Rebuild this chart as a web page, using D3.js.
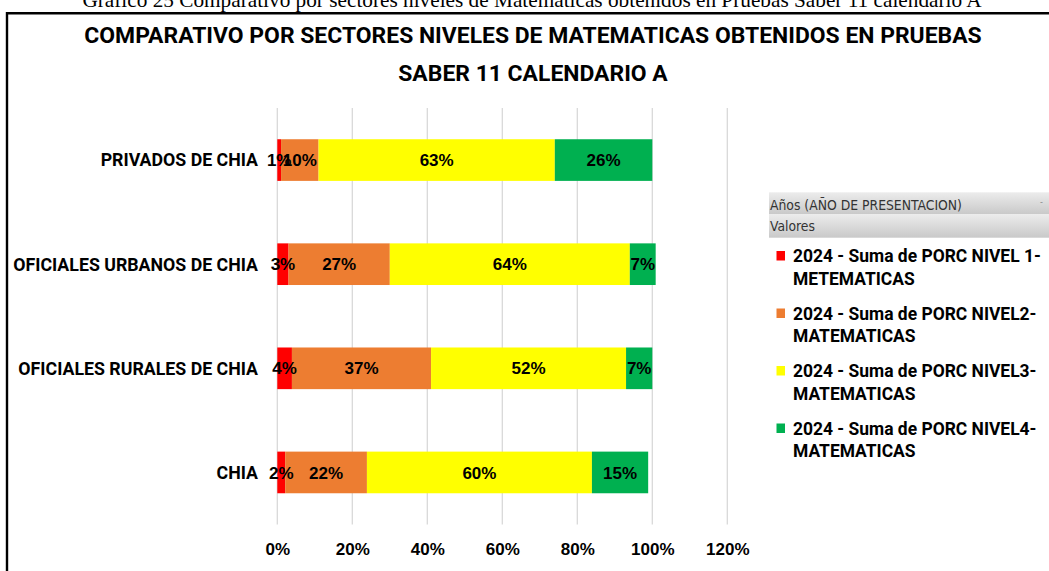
<!DOCTYPE html>
<html><head><meta charset="utf-8">
<script src="https://cdn.jsdelivr.net/npm/d3@7"></script>
<style>html,body{margin:0;padding:0;background:#fff;overflow:hidden}</style>
</head><body>
<svg id="chart" width="1049" height="571"></svg>
<script>
const categories = ["PRIVADOS DE CHIA","OFICIALES URBANOS DE CHIA","OFICIALES RURALES DE CHIA","CHIA"];
const nivel1 = [1.0, 3.0, 3.9, 2.1];
const nivel2 = [10.0, 27.0, 37.1, 21.8];
const nivel3 = [63.0, 64.0, 52.0, 60.0];
const nivel4 = [26.0, 6.9, 7.0, 15.0];
const seriesNames = ["2024 - Suma de PORC NIVEL 1-METEMATICAS","2024 - Suma de PORC NIVEL2-MATEMATICAS","2024 - Suma de PORC NIVEL3-MATEMATICAS","2024 - Suma de PORC NIVEL4-MATEMATICAS"];
const legendLines = [["2024 - Suma de PORC NIVEL 1-","METEMATICAS"],["2024 - Suma de PORC NIVEL2-","MATEMATICAS"],["2024 - Suma de PORC NIVEL3-","MATEMATICAS"],["2024 - Suma de PORC NIVEL4-","MATEMATICAS"]];
const colors = ["#ff0000","#ed7d31","#ffff00","#00b050"];
const xTicks = [0, 20, 40, 60, 80, 100, 120];
const captionText = "Gráfico 25 Comparativo por sectores niveles de Matemáticas obtenidos en Pruebas Saber 11 calendario A";
const titleLines = ["COMPARATIVO POR SECTORES NIVELES DE MATEMATICAS OBTENIDOS EN PRUEBAS","SABER 11 CALENDARIO A"];

const svg = d3.select("#chart");

function fit(sel, target){
  const n = sel.node();
  const w = n.getComputedTextLength();
  const fs = parseFloat(sel.attr("font-size"));
  sel.attr("font-size", (fs*target/w).toFixed(2));
  return fs*target/w;
}

// caption
const cap = svg.append("text").attr("x",532).attr("y",6.5).attr("text-anchor","middle")
  .attr("font-family","'Liberation Serif','Times New Roman',serif").attr("font-size",18).attr("fill","#000").text(captionText);
fit(cap, 900);

// frame
svg.append("path").attr("d","M7,571 V13.3 H1049").attr("fill","none").attr("stroke","#000").attr("stroke-width",2.4);

// title
const tFont = "Roboto, 'Liberation Sans', Arial, sans-serif";
const t1 = svg.append("text").attr("x",533).attr("y",43.3).attr("text-anchor","middle")
  .attr("font-family",tFont).attr("font-weight","bold").attr("font-size",20).attr("fill","#000").text(titleLines[0]);
const tfs = fit(t1, 898);
svg.append("text").attr("x",533).attr("y",80.5).attr("text-anchor","middle")
  .attr("font-family",tFont).attr("font-weight","bold").attr("font-size",tfs).attr("fill","#000").text(titleLines[1]);

// scales
const x = d3.scaleLinear().domain([0,120]).range([277.3,727.3]);
const y = d3.scaleBand().domain(categories).range([108,524.5]).paddingInner(0.6).paddingOuter(0.3);

// gridlines
svg.append("g").selectAll("line").data(xTicks).join("line")
  .attr("x1",d=>x(d)).attr("x2",d=>x(d)).attr("y1",108).attr("y2",524.5)
  .attr("stroke","#d9d9d9").attr("stroke-width",1.3);

// x axis labels
const xAxis = d3.axisBottom(x).tickValues(xTicks).tickFormat(d=>d+"%").tickSize(0).tickPadding(0);
const gx = svg.append("g").attr("transform","translate(0,543)").call(xAxis);
gx.select(".domain").remove();
gx.selectAll("text").attr("font-family","'Liberation Sans',Arial,sans-serif").attr("font-weight","bold")
  .attr("font-size",17).attr("fill","#000").attr("dy","0.71em");

// stacked data
const rows = categories.map((c,i)=>({cat:c, n1:nivel1[i], n2:nivel2[i], n3:nivel3[i], n4:nivel4[i]}));
const keys = ["n1","n2","n3","n4"];
const stack = d3.stack().keys(keys)(rows);

const gBars = svg.append("g");
stack.forEach((s,si)=>{
  gBars.append("g").selectAll("rect").data(s).join("rect")
    .attr("x",d=>x(d[0])).attr("width",d=>x(d[1])-x(d[0]))
    .attr("y",d=>y(d.data.cat)).attr("height",y.bandwidth())
    .attr("fill",colors[si]);
});
stack.forEach((s,si)=>{
  gBars.append("g").selectAll("text").data(s).join("text")
    .attr("x",d=>(x(d[0])+x(d[1]))/2).attr("y",d=>y(d.data.cat)+y.bandwidth()/2)
    .attr("dy","0.36em").attr("text-anchor","middle")
    .attr("font-family","'Liberation Sans',Arial,sans-serif").attr("font-weight","bold").attr("font-size",17)
    .attr("fill","#000").text(d=>Math.round(d[1]-d[0])+"%");
});

// category labels
const cFont = "Roboto, 'Liberation Sans', Arial, sans-serif";
const yAxis = d3.axisLeft(y).tickSize(0).tickPadding(0);
const gy = svg.append("g").attr("transform","translate(258,0)").call(yAxis);
gy.select(".domain").remove();
gy.selectAll("text").attr("font-family",cFont).attr("font-weight","bold").attr("font-size",16).attr("fill","#000").attr("dy","0.36em");
const longest = gy.selectAll("text").filter(d=>d==="OFICIALES URBANOS DE CHIA");
const cfs = fit(longest, 245);
gy.selectAll("text").attr("font-size",cfs);

// legend header
const defs = svg.append("defs");
const grad = defs.append("linearGradient").attr("id","hdr").attr("x1",0).attr("y1",0).attr("x2",0).attr("y2",1);
grad.append("stop").attr("offset","0%").attr("stop-color","#ececec");
grad.append("stop").attr("offset","100%").attr("stop-color","#c9c9c9");
svg.append("rect").attr("x",769).attr("y",192.3).attr("width",280).attr("height",21.7).attr("fill","url(#hdr)");
svg.append("rect").attr("x",769).attr("y",214).attr("width",280).attr("height",23.7).attr("fill","url(#hdr)");
const hFont = "'DejaVu Sans Condensed','DejaVu Sans',sans-serif";
const h1 = svg.append("text").attr("x",770).attr("y",209.5).attr("font-family",hFont).attr("font-size",13).attr("fill","#333").text("Años (AÑO DE PRESENTACION)");
const hfs = fit(h1, 192);
svg.append("text").attr("x",770).attr("y",231).attr("font-family",hFont).attr("font-size",hfs).attr("fill","#333").text("Valores");
svg.append("text").attr("x",1040).attr("y",205).attr("font-family",hFont).attr("font-size",9).attr("fill","#888").text("-");

// legend items
const lFont = "Roboto, 'Liberation Sans', Arial, sans-serif";
const legend = svg.append("g");
const items = legend.selectAll("g").data(seriesNames).join("g")
  .attr("transform",(d,i)=>`translate(0,${256 + i*57.5})`);
items.append("rect").attr("x",776.5).attr("y",-5).attr("width",8.5).attr("height",9.5).attr("fill",(d,i)=>colors[i]);
items.each(function(d,i){
  const g = d3.select(this);
  legendLines[i].forEach((ln,li)=>{
    g.append("text").attr("class","lt").attr("x",793).attr("y",li*22.7).attr("dy","0.36em")
      .attr("font-family",lFont).attr("font-weight","bold").attr("font-size",16).attr("fill","#000").text(ln);
  });
});
const firstL = legend.select("text.lt");
const lfs = fit(firstL, 248);
legend.selectAll("text.lt").attr("font-size",lfs);
</script>
</body></html>
